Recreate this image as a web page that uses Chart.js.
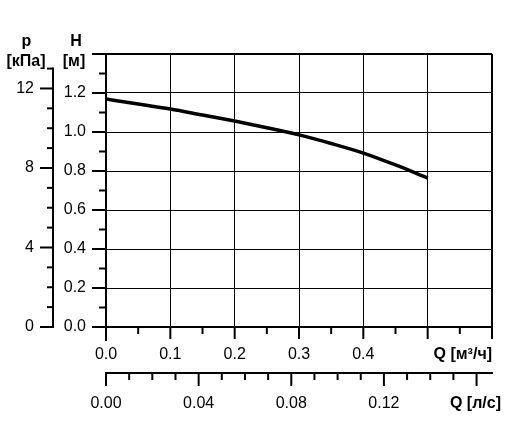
<!DOCTYPE html>
<html><head><meta charset="utf-8">
<script src="https://cdn.jsdelivr.net/npm/chart.js@4/dist/chart.umd.min.js"></script>
<style>html,body{margin:0;padding:0;background:#fff}</style>
</head><body>
<canvas id="c" width="510" height="447"></canvas>
<script>
// ---- data ----
const flowM3h = [0, 0.05, 0.1, 0.15, 0.2, 0.25, 0.3, 0.35, 0.4, 0.45, 0.5];
const headM   = [1.169, 1.144, 1.118, 1.087, 1.056, 1.022, 0.985, 0.941, 0.892, 0.831, 0.764];
const qM3hTickLabels = ['0.0', '0.1', '0.2', '0.3', '0.4'];
const qLsTickLabels  = ['0.00', '0.04', '0.08', '0.12'];
const hTickLabels    = ['0.0', '0.2', '0.4', '0.6', '0.8', '1.0', '1.2'];
const pTickLabels    = ['0', '4', '8', '12'];
const axisTitles = { p: 'p', pUnit: '[кПа]', h: 'H', hUnit: '[м]', qM3h: 'Q [м³/ч]', qLs: 'Q [л/с]' };

const FONT = '"Liberation Sans", Arial, sans-serif';
const tickFont = { family: FONT, size: 16 };
const isMult = (v, s) => Math.abs(v / s - Math.round(v / s)) < 1e-6;
const labelFrom = (list) => (v) => { const s = list.find(t => Math.abs(parseFloat(t) - v) < 1e-6); return s === undefined ? '' : s; };

const H_MAX = 1.4, Q_MAX = 0.6, G = 9.81;

const tickMarks = {
  id: 'tickMarks',
  afterDraw(chart) {
    const ctx = chart.ctx;
    const s = chart.scales;
    ctx.save();
    ctx.strokeStyle = '#000';
    ctx.lineWidth = 2;
    ctx.lineCap = 'butt';
    const line = (x1, y1, x2, y2) => { ctx.beginPath(); ctx.moveTo(x1, y1); ctx.lineTo(x2, y2); ctx.stroke(); };
    // H axis ticks
    const y = s.y;
    y.ticks.forEach(t => {
      const py = y.getPixelForValue(t.value);
      const len = isMult(t.value, 0.2) ? 14 : 7;
      line(y.right - len, py, y.right, py);
    });
    // H axis line extension below zero
    line(y.right, y.getPixelForValue(0), y.right, y.getPixelForValue(0) + 14);
    // p axis line and ticks
    const p = s.p;
    const pTop = p.ticks[p.ticks.length - 1].value;
    line(p.right, p.getPixelForValue(pTop) - 1, p.right, p.getPixelForValue(0) + 1);
    p.ticks.forEach(t => {
      const py = p.getPixelForValue(t.value);
      const len = isMult(t.value, 4) ? 13 : 6;
      line(p.right - len, py, p.right, py);
    });
    // Q m3/h ticks
    const x = s.x;
    x.ticks.forEach(t => {
      const px = x.getPixelForValue(t.value);
      const len = isMult(t.value, 0.1) ? 12 : 7;
      line(px, x.top, px, x.top + len);
    });
    // Q l/s ticks
    const x2 = s.x2;
    x2.ticks.forEach(t => {
      const px = x2.getPixelForValue(t.value);
      const len = isMult(t.value, 0.04) ? 13 : 7;
      line(px, x2.top, px, x2.top + len);
    });
    // titles
    ctx.fillStyle = '#000';
    ctx.font = 'bold 16px ' + FONT;
    ctx.textBaseline = 'middle';
    ctx.textAlign = 'right';
    ctx.fillText(axisTitles.qM3h, x.right, x.top + 28);
    ctx.fillText(axisTitles.qLs, x2.right + 9, x2.top + 31);
    ctx.textAlign = 'center';
    const top = chart.chartArea.top;
    ctx.fillText(axisTitles.p, 26.5, top - 12);
    ctx.fillText(axisTitles.pUnit, 26, top + 8);
    ctx.fillText(axisTitles.h, 76, top - 12);
    ctx.fillText(axisTitles.hUnit, 74, top + 8);
    ctx.restore();
  }
};

new Chart(document.getElementById('c'), {
  type: 'line',
  data: {
    datasets: [{
      data: flowM3h.map((q, i) => ({ x: q, y: headM[i] })),
      borderColor: '#000',
      borderWidth: 3.5,
      pointRadius: 0,
      fill: false,
      cubicInterpolationMode: 'monotone',
      xAxisID: 'x', yAxisID: 'y'
    }]
  },
  options: {
    responsive: false,
    animation: false,
    events: [],
    layout: { padding: { top: 54, right: 16, bottom: 14, left: 0 } },
    plugins: { legend: { display: false }, tooltip: { enabled: false } },
    scales: {
      x: {
        type: 'linear', position: 'bottom', weight: 0, min: 0, max: Q_MAX,
        ticks: { stepSize: 0.05, autoSkip: false, maxRotation: 0, font: tickFont, color: '#000', padding: 18,
                 callback: labelFrom(qM3hTickLabels) },
        grid: { drawTicks: false, color: c => isMult(c.tick.value, 0.1) ? '#000' : 'rgba(0,0,0,0)',
                lineWidth: c => Math.abs(c.tick.value - Q_MAX) < 1e-6 ? 2 : 1 },
        border: { display: true, width: 2, color: '#000' },
        afterFit: sc => { sc.height = 46; }
      },
      x2: {
        type: 'linear', position: 'bottom', weight: 1, min: 0, max: Q_MAX / 3.6,
        ticks: { stepSize: 0.01, includeBounds: false, autoSkip: false, maxRotation: 0, font: tickFont, color: '#000', padding: 21,
                 callback: labelFrom(qLsTickLabels) },
        grid: { display: false, drawTicks: false },
        border: { display: true, width: 2, color: '#000' },
        afterFit: sc => { sc.height = 60; }
      },
      y: {
        type: 'linear', position: 'left', weight: 0, min: 0, max: H_MAX,
        ticks: { stepSize: 0.1, autoSkip: false, font: tickFont, color: '#000', padding: 20,
                 callback: labelFrom(hTickLabels) },
        grid: { drawTicks: false, color: c => isMult(c.tick.value, 0.2) ? '#000' : 'rgba(0,0,0,0)',
                lineWidth: c => Math.abs(c.tick.value - H_MAX) < 1e-6 ? 2 : 1 },
        border: { display: true, width: 2, color: '#000' },
        afterFit: sc => { sc.width = 53; }
      },
      p: {
        type: 'linear', position: 'left', weight: 1, min: 0, max: H_MAX * G,
        ticks: { stepSize: 1, includeBounds: false, autoSkip: false, font: tickFont, color: '#000', padding: 19,
                 callback: labelFrom(pTickLabels) },
        grid: { display: false, drawTicks: false },
        border: { display: false },
        afterFit: sc => { sc.width = 53; }
      }
    }
  },
  plugins: [tickMarks]
});
</script>
</body></html>
